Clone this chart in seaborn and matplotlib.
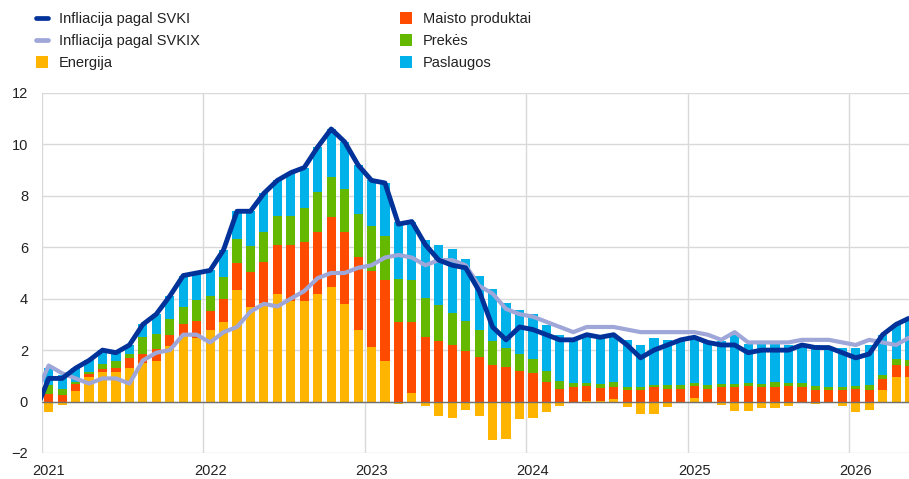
import matplotlib.pyplot as plt
import numpy as np
import pandas as pd
import seaborn as sns
from matplotlib.lines import Line2D
from matplotlib.patches import Patch

# monthly contributions, Jan 2021 - May 2026 (percentage points)
months = pd.period_range("2021-01", "2026-05", freq="M")

energy = [
    -0.42, -0.15, 0.40, 0.96, 1.14, 1.14, 1.29, 1.50, 1.59, 2.15, 2.56, 2.47,
    2.80, 3.09, 4.34, 3.69, 3.83, 4.18, 3.90, 3.92, 4.18, 4.44, 3.79, 2.78,
    2.12, 1.59, -0.08, 0.34, -0.18, -0.57, -0.63, -0.34, -0.57, -1.48, -1.44, -0.67,
    -0.62, -0.39, -0.18, -0.05, 0.03, 0.02, 0.10, -0.20, -0.48, -0.48, -0.20, 0.00,
    0.14, 0.00, -0.14, -0.38, -0.35, -0.25, -0.25, -0.18, -0.03, -0.09, -0.04, -0.18,
    -0.40, -0.34, 0.45, 0.96, 0.96,
]
food = [
    0.30, 0.25, 0.29, 0.13, 0.13, 0.17, 0.42, 0.36, 0.46, 0.45, 0.47, 0.65,
    0.73, 0.90, 1.03, 1.35, 1.59, 1.89, 2.17, 2.27, 2.43, 2.73, 2.82, 2.84,
    2.94, 3.15, 3.08, 2.74, 2.50, 2.34, 2.19, 1.95, 1.73, 1.44, 1.35, 1.20,
    1.10, 0.75, 0.50, 0.56, 0.56, 0.50, 0.46, 0.45, 0.45, 0.56, 0.50, 0.50,
    0.46, 0.50, 0.56, 0.56, 0.60, 0.56, 0.56, 0.60, 0.56, 0.44, 0.44, 0.44,
    0.49, 0.44, 0.44, 0.48, 0.41,
]
goods = [
    0.36, 0.24, 0.06, 0.05, 0.21, 0.26, 0.15, 0.65, 0.59, 0.61, 0.65, 0.82,
    0.56, 0.84, 0.96, 0.99, 1.17, 1.15, 1.15, 1.33, 1.52, 1.58, 1.66, 1.69,
    1.75, 1.68, 1.68, 1.66, 1.53, 1.40, 1.25, 1.18, 1.07, 0.90, 0.74, 0.65,
    0.55, 0.45, 0.29, 0.18, 0.14, 0.15, 0.19, 0.11, 0.11, 0.09, 0.15, 0.15,
    0.14, 0.15, 0.14, 0.14, 0.14, 0.14, 0.19, 0.12, 0.16, 0.16, 0.12, 0.12,
    0.10, 0.20, 0.15, 0.20, 0.26,
]
services = [
    0.66, 0.56, 0.55, 0.46, 0.52, 0.33, 0.34, 0.49, 0.76, 0.89, 1.22, 1.06,
    1.01, 1.07, 1.07, 1.37, 1.51, 1.38, 1.68, 1.58, 1.77, 1.85, 1.83, 1.89,
    1.79, 2.08, 2.22, 2.26, 2.25, 2.33, 2.49, 2.41, 2.07, 2.04, 1.75, 1.72,
    1.77, 1.79, 1.79, 1.71, 1.87, 1.83, 1.85, 1.84, 1.62, 1.83, 1.75, 1.75,
    1.76, 1.65, 1.64, 1.88, 1.51, 1.55, 1.50, 1.46, 1.51, 1.59, 1.58, 1.52,
    1.51, 1.55, 1.56, 1.36, 1.62,
]

# headline and core lines start in Dec 2020 (clipped at the left edge)
hicp = [
    -0.4,
    0.9, 0.9, 1.3, 1.6, 2.0, 1.9, 2.2, 3.0, 3.4, 4.1, 4.9, 5.0,
    5.1, 5.9, 7.4, 7.4, 8.1, 8.6, 8.9, 9.1, 9.9, 10.6, 10.1, 9.2,
    8.6, 8.5, 6.9, 7.0, 6.1, 5.5, 5.3, 5.2, 4.3, 2.9, 2.4, 2.9,
    2.8, 2.6, 2.4, 2.4, 2.6, 2.5, 2.6, 2.2, 1.7, 2.0, 2.2, 2.4,
    2.5, 2.3, 2.2, 2.2, 1.9, 2.0, 2.0, 2.0, 2.2, 2.1, 2.1, 1.9,
    1.7, 1.85, 2.6, 3.0, 3.25,
]
hicp_core = [
    0.25,
    1.4, 1.1, 0.9, 0.7, 0.9, 0.9, 0.7, 1.6, 1.9, 2.0, 2.6, 2.6,
    2.3, 2.7, 2.9, 3.5, 3.8, 3.7, 4.0, 4.3, 4.8, 5.0, 5.0, 5.2,
    5.3, 5.6, 5.7, 5.6, 5.3, 5.5, 5.5, 5.3, 4.5, 4.2, 3.6, 3.4,
    3.3, 3.1, 2.9, 2.7, 2.9, 2.9, 2.9, 2.8, 2.7, 2.7, 2.7, 2.7,
    2.7, 2.6, 2.4, 2.7, 2.3, 2.3, 2.3, 2.3, 2.4, 2.4, 2.4, 2.3,
    2.2, 2.4, 2.3, 2.2, 2.5,
]

bar_labels = ["Energija", "Maisto produktai", "Prekės", "Paslaugos"]
bar_colors = ["#ffb400", "#ff4b00", "#65b800", "#00b1ea"]
line_labels = ["Infliacija pagal SVKI", "Infliacija pagal SVKIX"]
line_colors = ["#003299", "#9fa6d8"]

sns.set_theme(style="white")
plt.rcParams["font.family"] = ["Liberation Sans", "DejaVu Sans"]

fig = plt.figure(figsize=(9.09, 4.79), dpi=100)
ax = fig.add_axes([0.0462, 0.0543, 0.9538, 0.7516])

x = np.arange(len(months))
pos_bottom = np.zeros(len(months))
neg_bottom = np.zeros(len(months))
for vals, color in zip([energy, food, goods, services], bar_colors):
    vals = np.array(vals)
    bottom = np.where(vals >= 0, pos_bottom, neg_bottom)
    ax.bar(x, vals, bottom=bottom, width=0.68, color=color, linewidth=0, zorder=2)
    pos_bottom = pos_bottom + np.clip(vals, 0, None)
    neg_bottom = neg_bottom + np.clip(vals, None, 0)

ax.axhline(0, color="#707070", lw=1.0, zorder=2.5)

line_x = np.arange(-1, len(months))
sns.lineplot(x=line_x, y=hicp_core, ax=ax, color=line_colors[1], lw=3.0,
             zorder=3, solid_joinstyle="round", solid_capstyle="butt")
sns.lineplot(x=line_x, y=hicp, ax=ax, color=line_colors[0], lw=3.5,
             zorder=4, solid_joinstyle="round", solid_capstyle="butt")

ax.set_xlim(-0.5, 63.96)
ax.set_ylim(-2, 12)
ax.set_yticks(np.arange(-2, 13, 2))
year_pos = [i for i, m in enumerate(months) if m.month == 1]
ax.set_xticks(year_pos)
ax.set_xticklabels([str(months[i].year) for i in year_pos])
ax.set_xticks([p - 0.5 for p in year_pos], minor=True)
ax.grid(axis="y", color="#d9d9d9", lw=1.0)
ax.grid(axis="x", which="minor", color="#d9d9d9", lw=1.0)
ax.grid(axis="x", which="major", visible=False)
ax.set_axisbelow(True)
for s in ax.spines.values():
    s.set_visible(False)
ax.tick_params(axis="both", which="both", length=0, labelsize=10.5, colors="#222222")
ax.tick_params(axis="y", pad=10)
ax.tick_params(axis="x", pad=8)
ax.set_xlabel("")
ax.set_ylabel("")

h_left = [
    Line2D([], [], color=line_colors[0], lw=3.4),
    Line2D([], [], color=line_colors[1], lw=3.4),
    Patch(color=bar_colors[0], lw=0),
]
h_right = [Patch(color=c, lw=0) for c in bar_colors[1:]]
common = dict(loc="upper left", frameon=False, borderpad=0, borderaxespad=0,
              handlelength=0.85, handleheight=0.8, handletextpad=0.7,
              labelspacing=0.55, prop={"size": 10.5})
leg1 = fig.legend(h_left, line_labels + bar_labels[:1],
                  bbox_to_anchor=(36 / 909, 1 - 12 / 479), **common)
leg2 = fig.legend(h_right, bar_labels[1:],
                  bbox_to_anchor=(400 / 909, 1 - 12 / 479), **common)
for leg in (leg1, leg2):
    for t in leg.get_texts():
        t.set_color("#222222")

fig.savefig("out.png", dpi=100)
